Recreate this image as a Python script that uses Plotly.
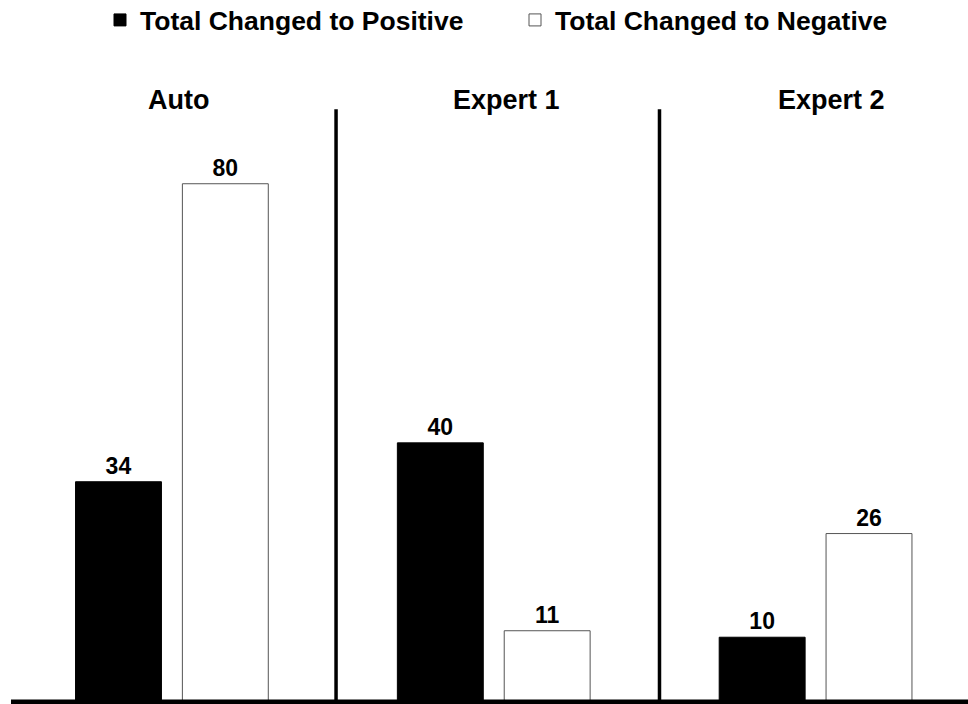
import plotly.graph_objects as go

categories = ["Auto", "Expert 1", "Expert 2"]
positive = [34, 40, 10]
negative = [80, 11, 26]
series_names = ["Total Changed to Positive", "Total Changed to Negative"]
title_x = [0.02, 1.04, 2.05]
separators = [0.51, 1.515]
sep_top = 91.5

FONT = "Liberation Sans, Arial, sans-serif"

fig = go.Figure()
fig.add_trace(go.Bar(
    x=categories, y=positive, name=series_names[0],
    marker=dict(color="black", line=dict(color="black", width=1)),
    text=positive, textposition="outside", cliponaxis=False,
    textfont=dict(family=FONT, size=23, color="black", weight="bold"),
))
fig.add_trace(go.Bar(
    x=categories, y=negative, name=series_names[1],
    marker=dict(color="white", line=dict(color="#555555", width=1)),
    text=negative, textposition="outside", cliponaxis=False,
    textfont=dict(family=FONT, size=23, color="black", weight="bold"),
))

for s in separators:
    fig.add_shape(type="line", xref="x", yref="y", x0=s, x1=s, y0=0, y1=sep_top,
                  line=dict(color="black", width=3.5))
fig.add_shape(type="line", xref="paper", yref="paper", x0=0, x1=1, y0=0, y1=0,
              line=dict(color="black", width=5))

for c, tx in zip(categories, title_x):
    fig.add_annotation(x=tx, y=1.0, xref="x", yref="paper", yanchor="middle",
                       yshift=-40, text=c, showarrow=False,
                       font=dict(family=FONT, size=27, color="black", weight="bold"))

fig.update_layout(
    width=968, height=704,
    margin=dict(l=11, r=0, t=60, b=2, autoexpand=False),
    paper_bgcolor="white", plot_bgcolor="white",
    barmode="group", bargap=0.336, bargroupgap=0.196,
    showlegend=True,
    legend=dict(orientation="h", x=0.093, xanchor="left", y=1.062, yanchor="middle",
                yref="paper", entrywidth=370, entrywidthmode="pixels",
                font=dict(family=FONT, size=26.5, color="black", weight="bold"),
                itemclick=False),
    xaxis=dict(range=[-0.5, 2.4736], showticklabels=False, ticks="", showgrid=False,
               zeroline=False, showline=False, fixedrange=True),
    yaxis=dict(range=[0, 99.1], visible=False, showgrid=False, zeroline=False),
)

fig.write_html("out.html")
